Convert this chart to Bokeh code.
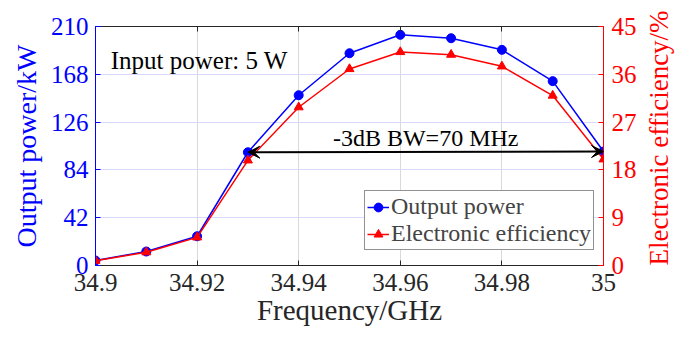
import math
from bokeh.plotting import figure
from bokeh.models import (Range1d, LinearAxis, FixedTicker, NumeralTickFormatter,
                          Arrow, VeeHead, Label, Legend, LegendItem)
from bokeh.embed import file_html
from bokeh.resources import INLINE

# ---- data ----
freq = [34.90, 34.91, 34.92, 34.93, 34.94, 34.95, 34.96, 34.97, 34.98, 34.99, 35.00]
power_kw = [4.4, 12.3, 25.7, 99.5, 149.6, 186.5, 202.7, 199.7, 189.5, 162.0, 100.2]
efficiency = [0.9, 2.5, 5.3, 19.8, 29.8, 37.0, 40.2, 39.7, 37.5, 32.0, 20.0]
x_ticks = [34.90, 34.92, 34.94, 34.96, 34.98, 35.00]
left_ticks = [0, 42, 84, 126, 168, 210]
right_ticks = [0, 9, 18, 27, 36, 45]
bw_text = "-3dB BW=70 MHz"
input_text = "Input power: 5 W"
right_label = "Electronic efficiency/%"

FONT = "Times New Roman, Liberation Serif, serif"
BLUE = "#0000ff"
RED = "#ff0000"
DARK = "#262626"

p = figure(width=691, height=345, output_backend="svg", toolbar_location=None,
           x_range=Range1d(34.9, 35.0), y_range=Range1d(0, 210),
           min_border_left=95, min_border_right=83, min_border_top=26, min_border_bottom=80)
p.outline_line_color = None
p.background_fill_color = "white"
p.extra_y_ranges = {"eff": Range1d(0, 45)}

# bottom axis
xa = p.xaxis[0]
xa.ticker = FixedTicker(ticks=x_ticks)
xa.formatter = NumeralTickFormatter(format="0.[00]")
xa.axis_label = "Frequency/GHz"
xa.axis_label_text_font = FONT
xa.axis_label_text_font_size = "29px"
xa.axis_label_text_font_style = "normal"
xa.axis_label_standoff = 0
xa.major_label_text_font = FONT
xa.major_label_text_font_size = "25px"
xa.major_label_standoff = 8
xa.major_tick_in = 5
xa.major_tick_out = 0
xa.minor_tick_line_color = None
xa.axis_line_color = DARK
xa.major_tick_line_color = DARK
xa.major_label_text_color = DARK
xa.axis_label_text_color = DARK

# left axis
ya = p.yaxis[0]
ya.ticker = FixedTicker(ticks=left_ticks)
ya.axis_label = "Output power/kW"
ya.axis_label_text_font = FONT
ya.axis_label_text_font_size = "28px"
ya.axis_label_text_font_style = "normal"
ya.axis_label_text_color = BLUE
ya.axis_label_standoff = 6
ya.major_label_text_font = FONT
ya.major_label_text_font_size = "25px"
ya.major_label_text_color = BLUE
ya.major_label_standoff = 7
ya.major_tick_in = 5
ya.major_tick_out = 0
ya.minor_tick_line_color = None
ya.axis_line_color = BLUE
ya.major_tick_line_color = BLUE

# right axis
ra = LinearAxis(y_range_name="eff", ticker=FixedTicker(ticks=right_ticks))
ra.major_label_text_font = FONT
ra.major_label_text_font_size = "25px"
ra.major_label_text_color = RED
ra.major_label_standoff = 8
ra.major_tick_in = 5
ra.major_tick_out = 0
ra.minor_tick_line_color = None
ra.axis_line_color = RED
ra.major_tick_line_color = RED
ra.axis_label = right_label
ra.axis_label_text_font = FONT
ra.axis_label_text_font_size = "27px"
ra.axis_label_text_font_style = "normal"
ra.axis_label_text_color = RED
ra.axis_label_standoff = 19
ra.axis_label_orientation = math.pi / 2
if "axis_label_align" in ra.properties():
    ra.axis_label_align = "start"
p.add_layout(ra, "right")

# top axis (box line)
ta = LinearAxis(ticker=FixedTicker(ticks=x_ticks))
ta.major_label_text_font_size = "0px"
ta.major_label_standoff = 0
ta.major_tick_in = 5
ta.major_tick_out = 0
ta.minor_tick_line_color = None
ta.axis_line_color = DARK
ta.major_tick_line_color = DARK
p.add_layout(ta, "above")

# grids
p.xgrid.ticker = FixedTicker(ticks=x_ticks)
p.xgrid.grid_line_color = "#d9d9d9"
p.xgrid.grid_line_width = 1
p.ygrid.ticker = FixedTicker(ticks=left_ticks)
p.ygrid.grid_line_color = "#d9d9ff"
p.ygrid.grid_line_width = 1

# series
l1 = p.line(freq, power_kw, line_color=BLUE, line_width=1.5)
s1 = p.scatter(freq, power_kw, marker="circle", size=9, fill_color=BLUE, line_color=BLUE)
l2 = p.line(freq, efficiency, line_color=RED, line_width=1.5, y_range_name="eff")
s2 = p.scatter(freq, efficiency, marker="triangle", size=9, fill_color=RED, line_color=RED,
               y_range_name="eff")

# bandwidth arrow
p.add_layout(Arrow(x_start=freq[3], y_start=power_kw[3], x_end=freq[-1], y_end=power_kw[-1],
                   line_color="black", line_width=2,
                   start=VeeHead(size=12, fill_color="black", line_color="black"),
                   end=VeeHead(size=12, fill_color="black", line_color="black")))

p.add_layout(Label(x=(freq[3] + freq[-1]) / 2, y=112, text=bw_text, text_align="center",
                   text_baseline="alphabetic", text_font=FONT, text_font_size="24px",
                   text_color="black"))
p.add_layout(Label(x=34.903, y=180, text=input_text, text_align="left",
                   text_baseline="alphabetic", text_font=FONT, text_font_size="25px",
                   text_color="black"))

legend = Legend(items=[LegendItem(label="Output power", renderers=[l1, s1]),
                       LegendItem(label="Electronic efficiency", renderers=[l2, s2])],
                location=(269, 15))
legend.label_text_font = FONT
legend.label_text_font_size = "24px"
legend.border_line_color = DARK
legend.border_line_width = 1
legend.background_fill_alpha = 1
legend.padding = 2
legend.spacing = 0
legend.margin = 0
legend.glyph_width = 22
legend.glyph_height = 26
legend.label_height = 26
legend.label_standoff = 2
p.add_layout(legend, "center")

open("out.html", "w").write(file_html(p, INLINE))
